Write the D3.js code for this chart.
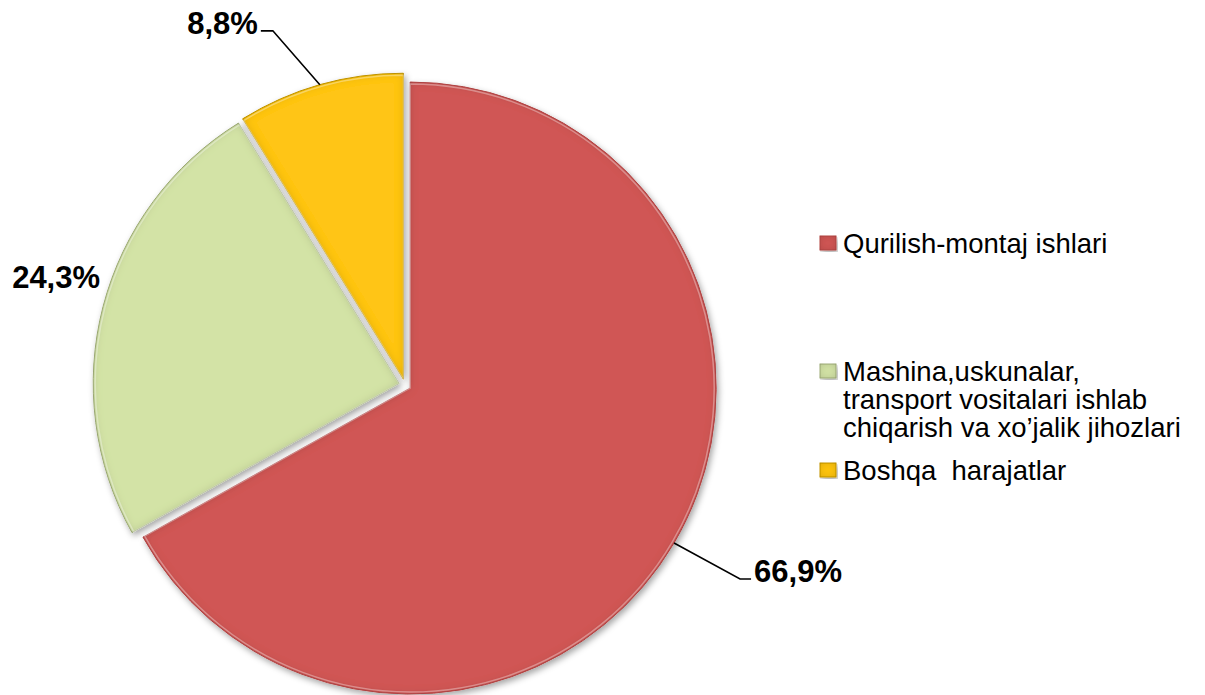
<!DOCTYPE html>
<head>
	<meta charset="utf-8">
	<title>Pie</title>
<style>
	body {
		margin:0;
		background-color: #ffffff;
		font-family: "Liberation Sans", Arial, sans-serif;
	}
	svg { display:block; }
	.lbl { font-weight: bold; font-size: 31px; fill: #000; }
	.leg { font-size: 27.5px; fill: #000; white-space: pre; }
	.leader { stroke: #000; stroke-width: 1.6px; fill: none; }
</style>
</head>
<script src="https://d3js.org/d3.v7.min.js"></script>
<body>
<script>
	var width = 1205;
	var height = 695;

	// data
	var categories = ["Qurilish-montaj ishlari", "Mashina,uskunalar, transport vositalari ishlab chiqarish va xo\u2019jalik jihozlari", "Boshqa  harajatlar"];
	var values = [66.9, 24.3, 8.8];
	var labels = ["66,9%", "24,3%", "8,8%"];
	var legendLines = [["Qurilish-montaj ishlari"], ["Mashina,uskunalar,", "transport vositalari ishlab", "chiqarish va xo\u2019jalik jihozlari"], ["Boshqa  harajatlar"]];
	var colors = ["#d05655", "#d3e3a6", "#ffc512"];
	var strokes = ["#b84a49", "#a4b27c", "#c99a08"];

	var cx = 405, cy = 385, r = 306, explode = 6;

	var svg = d3.select("body").append("svg")
		.attr("width", width)
		.attr("height", height);

	var defs = svg.append("defs");
	var f = defs.append("filter").attr("id", "bevel")
		.attr("x", "-10%").attr("y", "-10%").attr("width", "120%").attr("height", "120%");
	// drop shadow
	f.append("feGaussianBlur").attr("in", "SourceAlpha").attr("stdDeviation", 3).attr("result", "sb");
	f.append("feOffset").attr("in", "sb").attr("dx", 2).attr("dy", 3).attr("result", "so");
	f.append("feFlood").attr("flood-color", "#000").attr("flood-opacity", 0.35).attr("result", "sc");
	f.append("feComposite").attr("in", "sc").attr("in2", "so").attr("operator", "in").attr("result", "shadow");
	// inner edge shade
	f.append("feGaussianBlur").attr("in", "SourceAlpha").attr("stdDeviation", 4).attr("result", "ib");
	f.append("feComposite").attr("in", "SourceAlpha").attr("in2", "ib").attr("operator", "arithmetic")
		.attr("k2", 1).attr("k3", -1).attr("result", "edge");
	f.append("feFlood").attr("flood-color", "#000").attr("flood-opacity", 0.3).attr("result", "ec");
	f.append("feComposite").attr("in", "ec").attr("in2", "edge").attr("operator", "in").attr("result", "edgeShade");
	var m = f.append("feMerge");
	m.append("feMergeNode").attr("in", "shadow");
	m.append("feMergeNode").attr("in", "SourceGraphic");
	m.append("feMergeNode").attr("in", "edgeShade");

	var pie = d3.pie().sort(null).value(function(d) { return d; });
	var arcs = pie(values);

	var arc = d3.arc().innerRadius(0).outerRadius(r);

	function shift(d) {
		var a = (d.startAngle + d.endAngle) / 2;
		return [cx + Math.sin(a) * explode, cy - Math.cos(a) * explode];
	}
	function rim(d) {
		var a = (d.startAngle + d.endAngle) / 2;
		var s = shift(d);
		return [s[0] + Math.sin(a) * r, s[1] - Math.cos(a) * r];
	}

	var slices = svg.append("g");
	slices.selectAll("path")
		.data(arcs)
		.enter().append("path")
		.attr("transform", function(d) { var s = shift(d); return "translate(" + s[0] + "," + s[1] + ")"; })
		.attr("d", arc)
		.style("fill", function(d, i) { return colors[i]; })
		.style("stroke", function(d, i) { return strokes[i]; })
		.style("stroke-width", 1)
		.attr("filter", "url(#bevel)");

	// light highlight along the slice edges
	slices.selectAll("path.hl")
		.data(arcs)
		.enter().append("path")
		.attr("class", "hl")
		.attr("transform", function(d) { var s = shift(d); return "translate(" + s[0] + "," + s[1] + ")"; })
		.attr("d", d3.arc().innerRadius(0).outerRadius(r - 2))
		.style("fill", "none")
		.style("stroke", "#ffffff")
		.style("stroke-opacity", 0.35)
		.style("stroke-width", 1.5);

	// data labels: elbow offset from the rim point, then a short horizontal leg
	var leaderCfg = [
		{ dx: 66, dy: 36, leg: 11, anchor: "start", line: true },
		{ dx: -3, dy: -21, leg: 0, anchor: "end", line: false },
		{ dx: -47, dy: -54, leg: -12, anchor: "end", line: true }
	];

	var lab = svg.append("g");
	arcs.forEach(function(d, i) {
		var p = rim(d);
		var c = leaderCfg[i];
		var ex = p[0] + c.dx, ey = p[1] + c.dy;
		if (c.line) {
			lab.append("path")
				.attr("class", "leader")
				.attr("d", "M" + p[0] + "," + p[1] + "L" + ex + "," + ey + "L" + (ex + c.leg) + "," + ey);
		}
		var tx = ex + c.leg + (c.leg > 0 ? 3 : (c.leg < 0 ? -3 : 0));
		lab.append("text")
			.attr("class", "lbl")
			.attr("x", tx)
			.attr("y", ey + 3)
			.attr("text-anchor", c.anchor)
			.text(labels[i]);
	});

	// legend
	var legX = 820, legTextX = 843;
	var legTops = [253, 381, 480];
	var lineH = 28;
	var leg = svg.append("g");
	legendLines.forEach(function(lines, i) {
		var g = leg.append("g");
		g.append("rect")
			.attr("x", legX)
			.attr("y", legTops[i] - 17)
			.attr("width", 16)
			.attr("height", 14)
			.style("fill", colors[i])
			.style("stroke", strokes[i])
			.style("stroke-width", 1)
			.attr("filter", "url(#bevel)");
		lines.forEach(function(s, j) {
			g.append("text")
				.attr("class", "leg")
				.attr("x", legTextX)
				.attr("y", legTops[i] + j * lineH)
				.text(s);
		});
	});
</script>
</body>
